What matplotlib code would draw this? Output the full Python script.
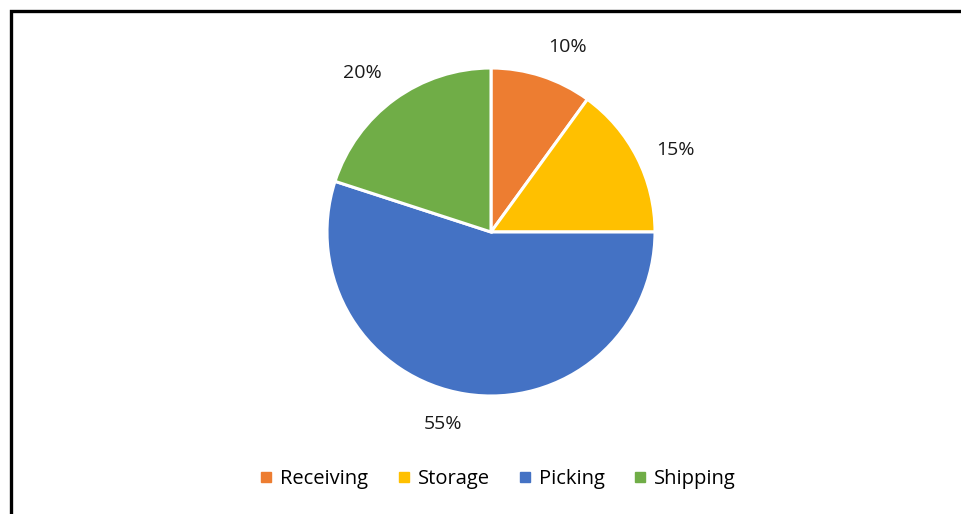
import numpy as np
import matplotlib.pyplot as plt
from matplotlib.lines import Line2D
from matplotlib.patches import Rectangle

# Share of time per warehouse activity
labels = ['Receiving', 'Storage', 'Picking', 'Shipping']
shares = [10, 15, 55, 20]
colors = ['#ED7D31', '#FFC000', '#4472C4', '#70AD47']

plt.rcParams['font.family'] = ['Open Sans', 'DejaVu Sans']

W, H = 961, 514
fig = plt.figure(figsize=(W / 100, H / 100), dpi=100)

# chart frame (runs off the right and bottom edges)
fig.patches.append(Rectangle((10.5 / W, -0.1), 1.2, 1 - 10.5 / H + 0.1,
                             transform=fig.transFigure, fill=False,
                             edgecolor='black', linewidth=2.4))

# pie axes: centre (491, 232) px, radius 164 px
cx, cy, r = 491, 232, 164
ax = fig.add_axes([(cx - r) / W, (H - cy - r) / H, 2 * r / W, 2 * r / H])
wedges, texts, autotexts = ax.pie(
    shares, colors=colors, startangle=90, counterclock=False,
    autopct='%1.0f%%',
    wedgeprops=dict(edgecolor='white', linewidth=2.2),
    textprops=dict(fontsize=14, color='#1a1a1a'))

# put the percentages just outside the rim, anchored away from the pie
for w, t in zip(wedges, autotexts):
    ang = np.deg2rad((w.theta1 + w.theta2) / 2)
    x, y = 1.13 * np.cos(ang), 1.13 * np.sin(ang)
    t.set_position((x, y))
    t.set_ha('left' if x > 0 else 'right')
    if abs(y) < 0.6:
        t.set_va('center_baseline')
    else:
        t.set_va('bottom' if y > 0 else 'top')

ax.set_xlim(-1, 1)
ax.set_ylim(-1, 1)
ax.set_aspect('equal')
ax.axis('off')

handles = [Line2D([], [], marker='s', linestyle='none', markersize=7.5,
                  markerfacecolor=c, markeredgecolor=c) for c in colors]
fig.legend(handles, labels, ncol=4, loc='center',
           bbox_to_anchor=(496 / W, 1 - 479 / H), frameon=False,
           fontsize=14.5, handletextpad=0.2, columnspacing=1.25,
           handlelength=1.0)

fig.savefig('out.png', dpi=100, facecolor='white')
